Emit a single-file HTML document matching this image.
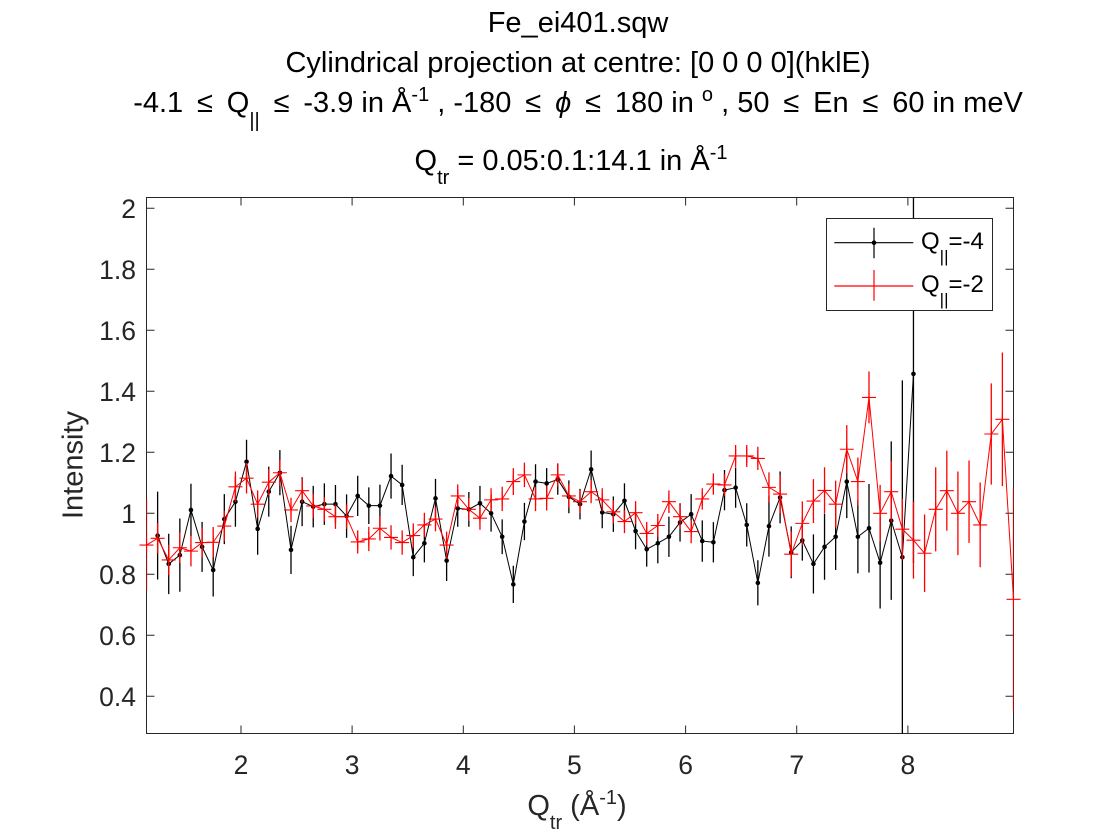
<!DOCTYPE html>
<html>
<head>
<meta charset="utf-8">
<style>
  html,body{margin:0;padding:0;background:#fff;}
  svg{display:block;}
  text{font-family:"Liberation Sans", Arial, sans-serif;}
</style>
</head>
<body>
<svg id="chart" xmlns="http://www.w3.org/2000/svg" width="1120" height="840" viewBox="0 0 1120 840">
  <rect x="0" y="0" width="1120" height="840" fill="#ffffff"/>
  <defs>
    <clipPath id="axclip"><rect x="146.5" y="197.5" width="867" height="536"/></clipPath>
  </defs>

  <!-- Axes box and ticks -->
  <g stroke="#262626" stroke-width="1" fill="none">
    <rect x="146.5" y="197.5" width="867" height="536"/>
    <path d="M146.5 208.3h8M146.5 269.3h8M146.5 330.3h8M146.5 391.3h8M146.5 452.3h8M146.5 513.3h8M146.5 574.3h8M146.5 635.3h8M146.5 696.3h8
             M1013.5 208.3h-8M1013.5 269.3h-8M1013.5 330.3h-8M1013.5 391.3h-8M1013.5 452.3h-8M1013.5 513.3h-8M1013.5 574.3h-8M1013.5 635.3h-8M1013.5 696.3h-8
             M241 733.5v-8M352.1 733.5v-8M463.3 733.5v-8M574.4 733.5v-8M685.6 733.5v-8M796.7 733.5v-8M907.9 733.5v-8
             M241 197.5v8M352.1 197.5v8M463.3 197.5v8M574.4 197.5v8M685.6 197.5v8M796.7 197.5v8M907.9 197.5v8"/>
  </g>

  <!-- Y tick labels -->
  <g fill="#262626" font-size="26.5" text-anchor="end">
    <text x="136" y="217.8">2</text>
    <text x="136" y="278.8">1.8</text>
    <text x="136" y="339.8">1.6</text>
    <text x="136" y="400.8">1.4</text>
    <text x="136" y="461.8">1.2</text>
    <text x="136" y="522.8">1</text>
    <text x="136" y="583.8">0.8</text>
    <text x="136" y="644.8">0.6</text>
    <text x="136" y="705.8">0.4</text>
  </g>
  <!-- X tick labels -->
  <g fill="#262626" font-size="26.5" text-anchor="middle">
    <text x="241" y="774">2</text>
    <text x="352.1" y="774">3</text>
    <text x="463.3" y="774">4</text>
    <text x="574.4" y="774">5</text>
    <text x="685.6" y="774">6</text>
    <text x="796.7" y="774">7</text>
    <text x="907.9" y="774">8</text>
  </g>

  <!-- Titles -->
  <g fill="#000" font-size="29" text-anchor="middle">
    <text x="578" y="32">Fe_ei401.sqw</text>
    <text x="578" y="72">Cylindrical projection at centre: [0 0 0 0](hklE)</text>
    <text x="578" y="112">-4.1 &#8201;≤&#8201; Q<tspan font-size="20" dy="15">||</tspan><tspan dy="-15"> &#8201;≤&#8201; -3.9 in Å</tspan><tspan font-size="20" dy="-11">-1</tspan><tspan dy="11"> , -180 &#8201;≤&#8201; </tspan><tspan font-style="italic">ϕ</tspan><tspan> &#8201;≤&#8201; 180 in </tspan><tspan font-size="20" dy="-11">o</tspan><tspan dy="11"> , 50 &#8201;≤&#8201; En &#8201;≤&#8201; 60 in meV</tspan></text>
    <text x="571" y="170">Q<tspan font-size="20" dy="14">tr</tspan><tspan dy="-14"> = 0.05:0.1:14.1 in Å</tspan><tspan font-size="20" dy="-11">-1</tspan></text>
  </g>

  <!-- Axis labels -->
  <text x="577" y="815" fill="#262626" font-size="29" text-anchor="middle">Q<tspan font-size="20" dy="14">tr</tspan><tspan dy="-14"> (Å</tspan><tspan font-size="20" dy="-11">-1</tspan><tspan dy="11">)</tspan></text>
  <text transform="translate(82.5,465) rotate(-90)" fill="#262626" font-size="29" text-anchor="middle">Intensity</text>

  <g id="data"></g>

  <!-- Legend -->
  <g>
    <rect x="826.5" y="218.5" width="166" height="92" fill="#fff" stroke="#262626" stroke-width="1"/>
    <path d="M834.3 242.7H913.3M874 227.7V258.3" stroke="#000" stroke-width="1.2" fill="none"/>
    <circle cx="874" cy="242.7" r="2.3" fill="#000"/>
    <path d="M834.3 286H913.3M874 270V300.7M867 286H881M874 279V293" stroke="#ff0000" stroke-width="1.2" fill="none"/>
    <text x="921" y="249" fill="#000" font-size="24">Q<tspan font-size="17" dy="13">||</tspan><tspan dy="-13">=-4</tspan></text>
    <text x="921" y="292" fill="#000" font-size="24">Q<tspan font-size="17" dy="13">||</tspan><tspan dy="-13">=-2</tspan></text>
  </g>
</svg>
<script>
(function(){
  var L=146.5,R=1013.5;
  function X(q){return L+(q-1.15)*(R-L)/7.8;}
  function Y(v){return 208.3+(2-v)*305;}
  var black=[[0.927,0.144],[0.834,0.099],[0.863,0.120],[1.011,0.086],[0.890,0.082],[0.814,0.087],[0.981,0.082],[1.038,0.082],[1.169,0.072],[0.949,0.085],
  [1.071,0.082],[1.133,0.074],[0.880,0.079],[1.038,0.080],[1.022,0.068],[1.030,0.068],[1.030,0.063],[0.991,0.071],[1.057,0.066],[1.025,0.060],
  [1.025,0.069],[1.122,0.074],[1.093,0.066],[0.856,0.062],[0.902,0.063],[1.049,0.064],[0.845,0.067],[1.016,0.060],[1.013,0.057],[1.033,0.057],
  [1.000,0.060],[0.923,0.057],[0.767,0.061],[0.973,0.061],[1.104,0.057],[1.098,0.050],[1.111,0.050],[1.054,0.054],[1.030,0.050],[1.144,0.062],
  [1.003,0.052],[0.997,0.058],[1.041,0.057],[0.942,0.060],[0.882,0.057],[0.902,0.066],[0.923,0.066],[0.970,0.063],[0.997,0.066],[0.909,0.068],
  [0.905,0.066],[1.076,0.066],[1.084,0.066],[0.962,0.071],[0.772,0.074],[0.958,0.100],[1.052,0.085],[0.872,0.085],[0.911,0.066],[0.834,0.097],
  [0.890,0.108],[0.923,0.109],[1.104,0.120],[0.923,0.120],[0.951,0.145],[0.838,0.150],[0.976,0.260],[0.856,0.580],[1.457,0.620]];
  var red=[[0.896,0.150],[0.918,0.050],[0.847,0.050],[0.887,0.050],[0.876,0.050],[0.904,0.050],[0.905,0.050],[0.958,0.050],[1.087,0.050],[1.115,0.050],
  [1.030,0.045],[1.102,0.043],[1.133,0.043],[1.011,0.040],[1.074,0.040],[1.024,0.040],[1.013,0.040],[0.989,0.040],[0.989,0.040],[0.906,0.038],
  [0.916,0.040],[0.951,0.040],[0.921,0.040],[0.904,0.040],[0.927,0.040],[0.962,0.040],[0.981,0.040],[0.896,0.044],[1.057,0.038],[1.013,0.038],
  [0.984,0.038],[1.044,0.038],[1.047,0.040],[1.104,0.044],[1.126,0.040],[1.047,0.040],[1.049,0.040],[1.126,0.038],[1.057,0.038],[1.038,0.038],
  [1.071,0.038],[1.044,0.038],[1.005,0.038],[0.973,0.038],[1.002,0.038],[0.934,0.038],[0.960,0.038],[1.038,0.037],[0.989,0.040],[0.940,0.038],
  [1.047,0.035],[1.096,0.035],[1.093,0.036],[1.188,0.036],[1.188,0.036],[1.180,0.038],[1.085,0.049],[1.063,0.063],[0.866,0.074],[0.967,0.072],
  [1.040,0.072],[1.075,0.076],[1.030,0.077],[1.210,0.079],[1.104,0.079],[1.380,0.085],[1.000,0.093],[1.071,0.100],[0.948,0.100],[0.912,0.126],
  [0.869,0.127],[1.013,0.138],[1.074,0.131],[1.000,0.137],[1.038,0.135],[0.962,0.139],[1.260,0.166],[1.308,0.219],[0.718,0.366]];
  var NS="http://www.w3.org/2000/svg";
  var g=document.getElementById("data");
  function el(tag,attrs){var e=document.createElementNS(NS,tag);for(var k in attrs)e.setAttribute(k,attrs[k]);return e;}
  function series(data,q0,color,marker){
    var eb="",ln="",mk="";
    for(var i=0;i<data.length;i++){
      var q=q0+0.1*i,x=X(q),y=Y(data[i][0]),e=data[i][1]*305;
      eb+="M"+x.toFixed(2)+" "+(y-e).toFixed(2)+"V"+(y+e).toFixed(2);
      ln+=(i?"L":"M")+x.toFixed(2)+" "+y.toFixed(2);
      if(marker==="plus"){mk+="M"+(x-7).toFixed(2)+" "+y.toFixed(2)+"h14M"+x.toFixed(2)+" "+(y-7).toFixed(2)+"v14";}
    }
    var sg=el("g",{});
    sg.appendChild(el("path",{d:eb,stroke:color,"stroke-width":"1.3",fill:"none","clip-path":"url(#axclip)"}));
    sg.appendChild(el("path",{d:ln,stroke:color,"stroke-width":"1","fill":"none","stroke-linejoin":"round"}));
    if(marker==="plus"){sg.appendChild(el("path",{d:mk,stroke:color,"stroke-width":"1.1",fill:"none"}));}
    else{
      for(var j=0;j<data.length;j++){
        sg.appendChild(el("circle",{cx:X(q0+0.1*j).toFixed(2),cy:Y(data[j][0]).toFixed(2),r:"2.3",fill:color}));
      }
    }
    g.appendChild(sg);
  }
  series(black,1.25,"#000000","dot");
  series(red,1.15,"#ff0000","plus");
})();
</script>
</body>
</html>
